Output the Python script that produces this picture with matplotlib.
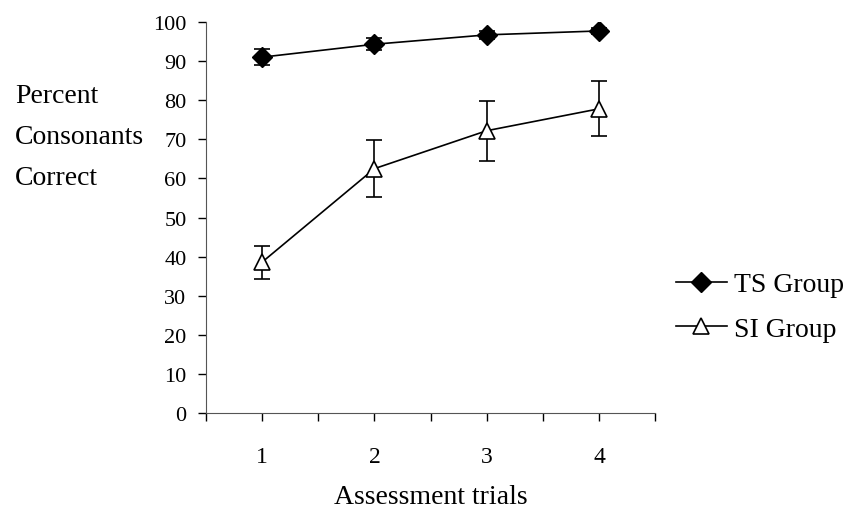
import numpy as np
import matplotlib
matplotlib.use("Agg")
import matplotlib.pyplot as plt

plt.rcParams['font.family'] = ['Liberation Serif', 'DejaVu Serif']

trials = [1, 2, 3, 4]
ts_mean = [91.0, 94.3, 96.7, 97.7]
ts_err = [2.0, 1.5, 1.0, 0.8]
si_mean = [38.6, 62.5, 72.2, 77.8]
si_err = [4.2, 7.2, 7.7, 7.0]

fig = plt.figure(figsize=(8.51, 5.10), dpi=100)
ax = fig.add_axes([0.242, 0.188, 0.528, 0.767])

ax.errorbar(trials, ts_mean, yerr=ts_err, color='black', marker='D', markersize=10,
            markerfacecolor='black', linewidth=1.2, capsize=5.5, capthick=1.2,
            elinewidth=1.2, label='TS Group')
ax.errorbar(trials, si_mean, yerr=si_err, color='black', marker='^', markersize=11,
            markerfacecolor='white', markeredgewidth=1.2, linewidth=1.2, capsize=5.5,
            capthick=1.2, elinewidth=1.2, label='SI Group')

ax.set_xlim(0.5, 4.5)
ax.set_ylim(0, 100)
ax.set_yticks(np.arange(0, 101, 10))
ax.set_xticks(trials)
ax.set_xticks([0.5, 1.5, 2.5, 3.5, 4.5], minor=True)
ax.tick_params(axis='x', which='both', direction='out', length=6, width=1, pad=18, labelsize=17)
ax.tick_params(axis='y', direction='out', length=6, width=1, labelsize=16, pad=8)
ax.spines['top'].set_visible(False)
ax.spines['right'].set_visible(False)
ax.spines['left'].set_color('#555555')
ax.spines['bottom'].set_color('#555555')

ax.set_xlabel('Assessment trials', fontsize=20, labelpad=12)
fig.text(0.018, 0.81, 'Percent', fontsize=20, va='center', ha='left')
fig.text(0.018, 0.73, 'Consonants', fontsize=20, va='center', ha='left')
fig.text(0.018, 0.65, 'Correct', fontsize=20, va='center', ha='left')

handles, labels = ax.get_legend_handles_labels()
handles = [h[0] for h in handles]
fig.legend(handles, labels, loc='center left', bbox_to_anchor=(0.794, 0.396),
           frameon=False, fontsize=20, handlelength=1.85, handletextpad=0.25,
           labelspacing=0.7, borderpad=0, borderaxespad=0)

fig.savefig('out.png', dpi=100)
